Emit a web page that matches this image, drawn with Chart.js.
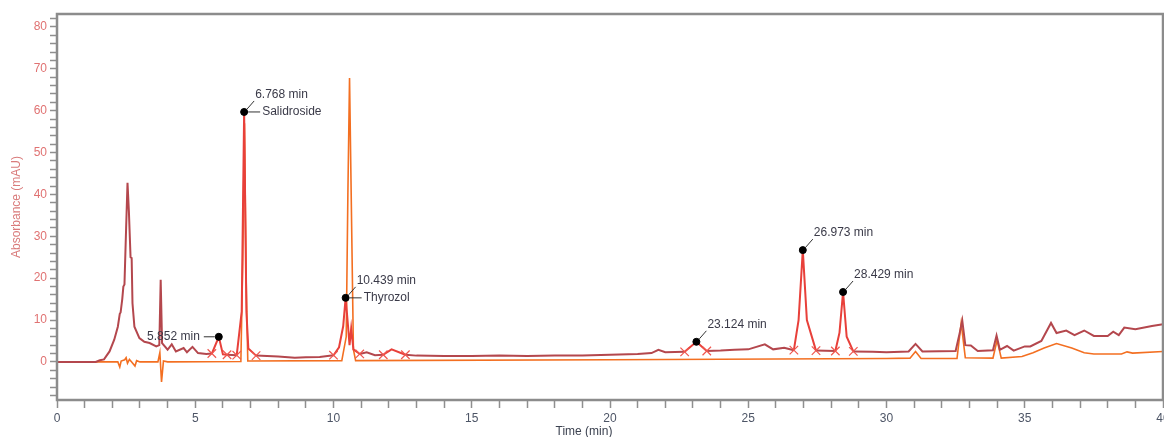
<!DOCTYPE html>
<html>
<head>
<meta charset="utf-8">
<script src="https://cdn.jsdelivr.net/npm/chart.js@4/dist/chart.umd.min.js"></script>
<style>
  html, body { margin: 0; padding: 0; background: #fff; overflow: hidden; }
  #wrap { width: 1164px; height: 437px; overflow: hidden; position: relative; }
  canvas { display: block; }
</style>
</head>
<body>
<div id="wrap"><canvas id="chrom" width="1173" height="446"></canvas></div>
<script>
// Sample chromatogram (retention time in min, absorbance in mAU)
const sampleTime = [
  0, 1.4, 1.55, 1.7, 1.9, 2.07, 2.2, 2.27, 2.3, 2.36,
  2.4, 2.44, 2.5, 2.55, 2.6, 2.66, 2.7, 2.73, 2.8, 2.98,
  3.16, 3.35, 3.59, 3.7, 3.75, 3.8, 4.0, 4.15, 4.3, 4.58,
  4.7, 4.9, 5.1, 5.4, 5.6, 5.852, 6.0, 6.15, 6.5, 6.68,
  6.768, 6.85, 6.92, 7.2, 8.0, 8.6, 9.0, 9.5, 10.0, 10.2,
  10.35, 10.439, 10.52, 10.58, 10.64, 10.72, 10.95, 11.2, 11.5, 11.8,
  12.1, 12.6, 13.0, 14.0, 15.0, 16.0, 17.0, 18.0, 19.0, 20.0,
  21.0, 21.5, 21.75, 22.0, 22.7, 23.124, 23.5, 24.0, 24.5, 25.0,
  25.6, 25.9, 26.3, 26.65, 26.82, 26.973, 27.12, 27.45, 28.15, 28.3,
  28.429, 28.56, 28.8, 29.5, 30.0, 30.8, 31.05, 31.3, 32.5, 32.65,
  32.74, 32.85, 33.05, 33.3, 33.85, 33.98, 34.1, 34.36, 34.6, 35.0,
  35.2, 35.6, 35.95, 36.15, 36.5, 36.8, 37.15, 37.5, 38.0, 38.2,
  38.4, 38.6, 39.0, 39.6, 40.0
];
const sampleAbs = [
  0, 0, 0.4, 0.6, 2.5, 5.3, 8.4, 11.5, 11.8, 15,
  18, 18.5, 32, 42.8, 36, 25, 24.8, 14, 8.4, 5.7,
  4.8, 4.5, 3.7, 4.0, 19.6, 4.5, 2.9, 4.2, 2.5, 3.3,
  2.3, 3.6, 2.1, 1.9, 2.0, 6.0, 1.8, 1.7, 1.6, 12,
  59.7, 12, 3.2, 1.5, 1.3, 1.0, 1.1, 1.2, 1.6, 3.5,
  8.5, 15.3, 9, 4, 8, 3, 1.9, 2.3, 1.6, 1.7,
  3.0, 1.7, 1.5, 1.4, 1.4, 1.5, 1.4, 1.5, 1.5, 1.7,
  1.9, 2.1, 2.9, 2.3, 2.4, 4.8, 2.6, 2.7, 2.9, 3.0,
  4.2, 3.0, 3.4, 2.8, 10, 26.7, 10, 2.7, 2.6, 7,
  16.7, 6, 2.5, 2.4, 2.3, 2.5, 4.3, 2.5, 2.6, 7,
  9.9, 4, 3.9, 2.6, 2.8, 6.3, 2.9, 3.8, 2.7, 3.7,
  3.7, 5.0, 9.3, 6.9, 7.5, 6.4, 7.5, 6.2, 6.2, 7.2,
  6.4, 8.2, 7.8, 8.6, 9.0
];

// Reference standard chromatogram
const stdTime = [
  0, 2.2, 2.27, 2.32, 2.45, 2.5, 2.55, 2.62, 2.7, 2.82,
  2.88, 3.0, 3.65, 3.72, 3.78, 3.85, 4.0, 6.65, 6.72, 6.78,
  6.84, 6.9, 10.3, 10.46, 10.52, 10.58, 10.64, 10.72, 10.8, 20.0,
  30.0, 30.85, 31.05, 31.25, 32.55, 32.7, 32.85, 33.85, 34.0, 34.15,
  34.9, 35.3, 35.7, 36.15, 36.7, 37.15, 37.5, 38.5, 38.7, 38.9,
  40.0
];
const stdAbs = [
  0, 0, -1.2, 0.2, 0.5, 1.0, -0.3, 0.6, 0, -1.0,
  0.3, 0, 0, 2.2, -4.8, 0.2, 0, 0.1, 25, 57,
  20, 0.2, 0.3, 6, 40, 67.8, 40, 3, 0.3, 0.5,
  0.8, 0.9, 2.5, 0.8, 0.8, 9.3, 1.0, 0.9, 5.2, 0.9,
  1.3, 2.2, 3.3, 4.4, 3.3, 2.2, 1.9, 1.9, 2.4, 2.1,
  2.5
];

// Integration delimiters (peak start / end pairs)
const delimTime = [5.6, 6.15, 6.5, 7.2, 10.0, 10.95, 11.8, 12.6, 22.7, 23.5, 26.65, 27.45, 28.15, 28.8];
const delimAbs  = [2.0, 1.7, 1.6, 1.5, 1.6, 1.9, 1.7, 1.7, 2.4, 2.6, 2.8, 2.7, 2.6, 2.5];

// Labelled peaks
const peakTime = [5.852, 6.768, 10.439, 23.124, 26.973, 28.429];
const peakAbs  = [6.0, 59.7, 15.3, 4.8, 26.7, 16.7];
const peakName = ['', 'Salidroside', 'Thyrozol', '', '', ''];

// Axis ticks
const xMajorStep = 5, xMinorStep = 1;
const yMajorStep = 10, yMinorStep = 2;

const FONT = '"Liberation Sans", Arial, sans-serif';
const DARK_RED = '#b4474d';
const PEAK_RED = '#e8403a';
const ORANGE = '#f36f21';

const toXY = (ts, vs) => ts.map((t, i) => ({ x: t, y: vs[i] }));

const windows = [];
for (let i = 0; i + 1 < delimTime.length; i += 2) windows.push([delimTime[i], delimTime[i + 1]]);
const inWindow = (a, b) => windows.some(([s, e]) => a >= s - 1e-9 && b <= e + 1e-9);

const framePlugin = {
  id: 'frame',
  afterDraw(chart) {
    const { ctx, chartArea: a } = chart;
    ctx.save();
    ctx.strokeStyle = '#8c8c8c';
    ctx.lineWidth = 2.5;
    ctx.strokeRect(a.left, a.top, a.right - a.left, a.bottom - a.top);
    ctx.fillStyle = '#3c4250';
    ctx.font = '12px ' + FONT;
    ctx.textAlign = 'center';
    ctx.textBaseline = 'middle';
    ctx.fillText('Time (min)', (a.left + a.right) / 2 - 26, 432);
    ctx.restore();
  }
};

const peakLabelPlugin = {
  id: 'peakLabels',
  afterDatasetsDraw(chart) {
    const { ctx, scales: { x, y } } = chart;
    ctx.save();
    ctx.font = '12px ' + FONT;
    ctx.fillStyle = '#3a3a48';
    ctx.strokeStyle = '#333';
    ctx.lineWidth = 1;
    ctx.textBaseline = 'middle';
    peakTime.forEach((t, i) => {
      const px = x.getPixelForValue(t);
      const py = y.getPixelForValue(peakAbs[i]);
      const txt = t.toFixed(3) + ' min';
      if (i === 0) {
        ctx.beginPath();
        ctx.moveTo(px - 4, py); ctx.lineTo(px - 15, py);
        ctx.stroke();
        ctx.textAlign = 'right';
        ctx.fillText(txt, px - 19, py);
      } else {
        ctx.beginPath();
        ctx.moveTo(px + 3, py - 3); ctx.lineTo(px + 10, py - 11);
        ctx.stroke();
        ctx.textAlign = 'left';
        ctx.fillText(txt, px + 11, py - 17);
        if (peakName[i]) {
          ctx.beginPath();
          ctx.moveTo(px + 4, py); ctx.lineTo(px + 16, py);
          ctx.stroke();
          ctx.fillText(peakName[i], px + 18, py);
        }
      }
    });
    ctx.restore();
  }
};

new Chart(document.getElementById('chrom'), {
  type: 'line',
  data: {
    datasets: [
      {
        label: 'peaks',
        type: 'scatter',
        data: toXY(peakTime, peakAbs),
        pointRadius: 3.5,
        pointBackgroundColor: '#000',
        pointBorderColor: '#000',
        showLine: false,
        order: 0
      },
      {
        label: 'delimiters',
        type: 'scatter',
        data: toXY(delimTime, delimAbs),
        pointStyle: 'crossRot',
        pointRadius: 6,
        pointBorderColor: '#f0564e',
        pointBorderWidth: 1.2,
        showLine: false,
        order: 1
      },
      {
        label: 'sample',
        data: toXY(sampleTime, sampleAbs),
        borderColor: DARK_RED,
        borderWidth: 2,
        pointRadius: 0,
        tension: 0,
        segment: {
          borderColor: c => inWindow(c.p0.parsed.x, c.p1.parsed.x) ? PEAK_RED : DARK_RED
        },
        order: 2
      },
      {
        label: 'standard',
        data: toXY(stdTime, stdAbs),
        borderColor: ORANGE,
        borderWidth: 1.6,
        pointRadius: 0,
        tension: 0,
        order: 3
      }
    ]
  },
  options: {
    responsive: false,
    devicePixelRatio: 1,
    animation: false,
    events: [],
    layout: { padding: { top: 14, left: 0, right: 10, bottom: 0 } },
    plugins: { legend: { display: false }, tooltip: { enabled: false } },
    scales: {
      x: {
        type: 'linear',
        min: 0,
        max: 40,
        afterFit(s) { s.height = 46; },
        grid: { drawOnChartArea: false, drawTicks: true, tickLength: 8, tickColor: '#8f8f8f', tickWidth: 1.5 },
        border: { display: false },
        ticks: {
          stepSize: xMinorStep,
          autoSkip: false,
          maxRotation: 0,
          padding: 3,
          color: '#4d5566',
          font: { family: FONT, size: 12 },
          callback: v => (Math.round(v) % xMajorStep === 0 ? String(Math.round(v)) : '')
        }
      },
      y: {
        type: 'linear',
        min: -9.1,
        max: 83.1,
        afterFit(s) { s.width = 57; },
        grid: { drawOnChartArea: false, drawTicks: true, tickLength: 7, tickColor: '#8f8f8f', tickWidth: 1.5 },
        border: { display: false },
        title: {
          display: true,
          text: 'Absorbance (mAU)',
          color: '#d97b7b',
          font: { family: FONT, size: 12 },
          padding: { top: 9, bottom: 0 }
        },
        ticks: {
          stepSize: yMinorStep,
          includeBounds: false,
          autoSkip: false,
          padding: 3,
          color: '#e07272',
          font: { family: FONT, size: 12 },
          callback: v => (Math.round(v) % yMajorStep === 0 ? String(Math.round(v)) : '')
        }
      }
    }
  },
  plugins: [framePlugin, peakLabelPlugin]
});
</script>
</body>
</html>
